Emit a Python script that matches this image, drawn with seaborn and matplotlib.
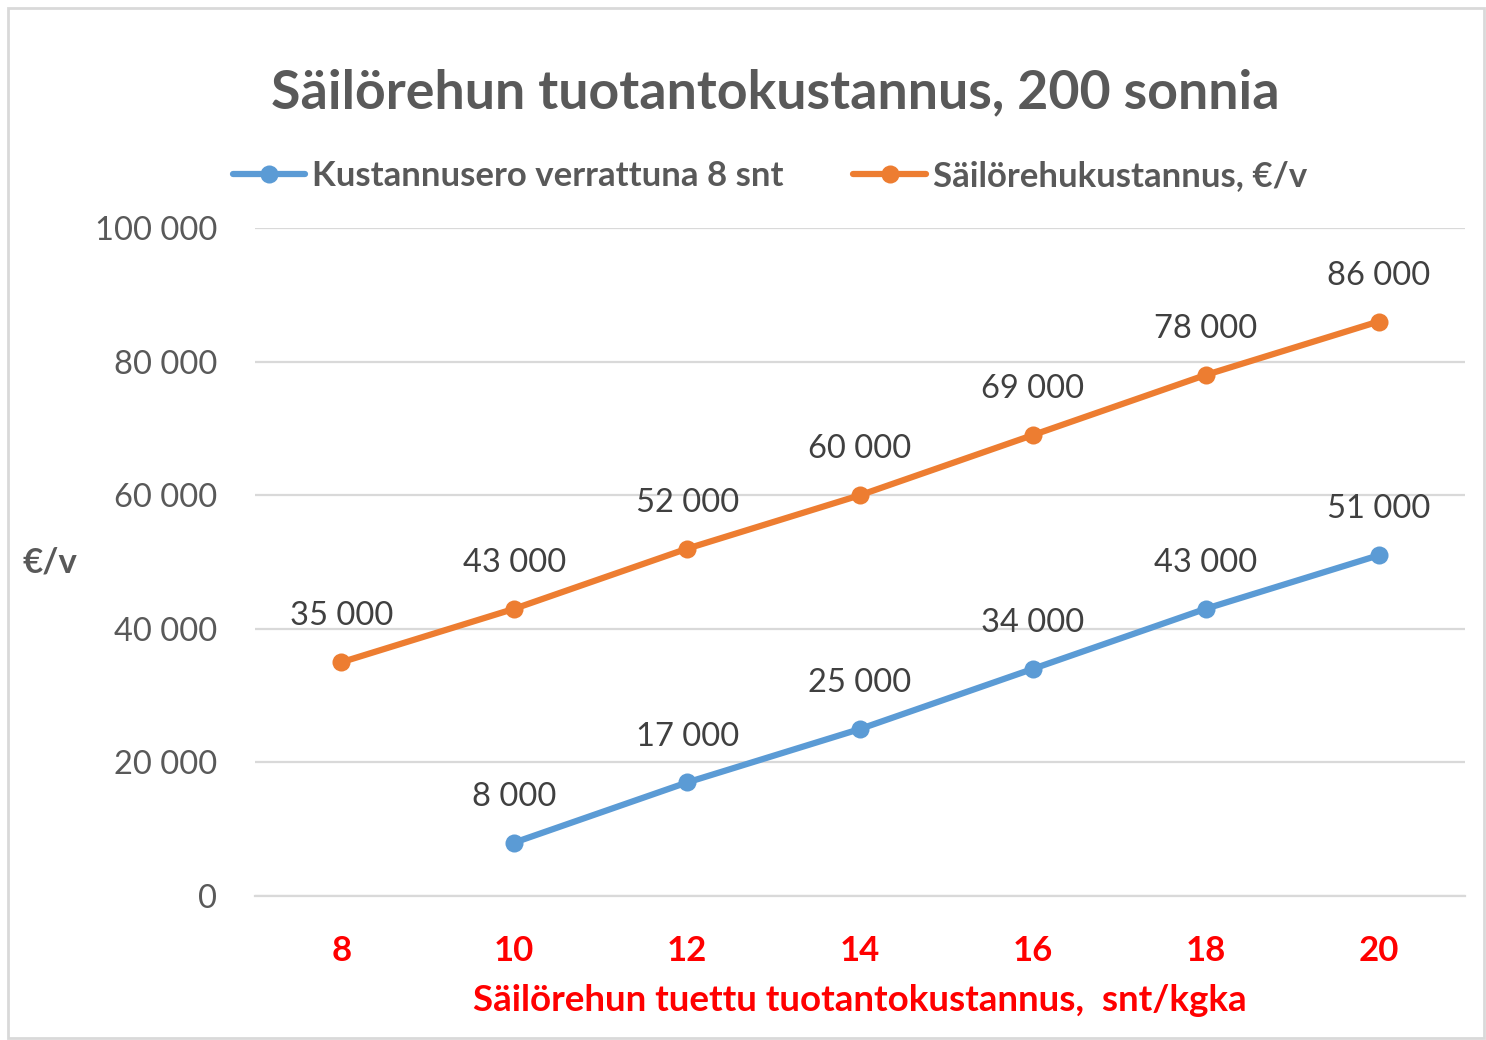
import numpy as np
import pandas as pd
import matplotlib
matplotlib.use("Agg")
import matplotlib.pyplot as plt
import seaborn as sns

# Data
hinta = [8, 10, 12, 14, 16, 18, 20]
kustannusero = [np.nan, 8000, 17000, 25000, 34000, 43000, 51000]
sailorehu = [35000, 43000, 52000, 60000, 69000, 78000, 86000]
y_ticks = [0, 20000, 40000, 60000, 80000, 100000]

df = pd.DataFrame({'hinta': hinta, 'ero': kustannusero, 'kust': sailorehu})

sns.set_style("white")
plt.rcParams['font.family'] = ['Lato', 'DejaVu Sans']

gray = '#595959'
blue = '#5B9BD5'
orange = '#ED7D31'
red = '#FF0000'

fig = plt.figure(figsize=(14.86, 10.40), dpi=100)
ax = fig.add_axes([255/1486, 1-896/1040, 1210/1486, 668/1040])

sns.lineplot(data=df, x='hinta', y='ero', ax=ax, color=blue, linewidth=4.5,
             marker='o', markersize=13, markeredgewidth=0,
             label='Kustannusero verrattuna 8 snt')
sns.lineplot(data=df, x='hinta', y='kust', ax=ax, color=orange, linewidth=4.5,
             marker='o', markersize=13, markeredgewidth=0,
             label='Säilörehukustannus, €/v')

def fmt(v):
    return '{:,.0f}'.format(v).replace(',', ' ')

# data labels
for xv, yv in zip(hinta, kustannusero):
    if not np.isnan(yv):
        ax.annotate(fmt(yv), (xv, yv), xytext=(0, 33), textcoords='offset points',
                    ha='center', va='center', fontsize=23.5, color='#404040')
for xv, yv in zip(hinta, sailorehu):
    ax.annotate(fmt(yv), (xv, yv), xytext=(0, 33), textcoords='offset points',
                ha='center', va='center', fontsize=23.5, color='#404040')

ax.set_xlim(7, 21)
ax.set_ylim(0, 100000)
ax.set_yticks(y_ticks)
ax.set_yticklabels([fmt(v) for v in y_ticks], fontsize=23.5, color=gray)
ax.set_xticks(hinta)
ax.set_xticklabels([str(v) for v in hinta], fontsize=25, color=red, fontweight='bold')
ax.tick_params(axis='both', length=0)
ax.tick_params(axis='y', pad=27)
ax.tick_params(axis='x', pad=28)
ax.grid(axis='y', color='#D9D9D9', linewidth=1.6)
ax.set_axisbelow(True)
for s in ['top', 'right', 'left']:
    ax.spines[s].set_visible(False)
ax.spines['bottom'].set_color('#D9D9D9')
ax.spines['bottom'].set_linewidth(1.6)

ax.set_xlabel('Säilörehun tuettu tuotantokustannus,  snt/kgka', fontsize=26.5,
              color=red, fontweight='bold', labelpad=12)
ax.set_ylabel('')
fig.text(50/1486, 1-563/1040, '€/v', fontsize=25, color=gray, fontweight='bold',
         ha='center', va='center')

fig.text(775/1486, 1-93/1040, 'Säilörehun tuotantokustannus, 200 sonnia',
         fontsize=38.6, color=gray, fontweight='bold', ha='center', va='center')

leg = ax.legend(loc='center', bbox_to_anchor=(770/1486, 1-176/1040),
                bbox_transform=fig.transFigure, ncol=2, frameon=False,
                fontsize=25, handlelength=2.1, columnspacing=2.0, handletextpad=0.2)
for t in leg.get_texts():
    t.set_color(gray)
    t.set_fontweight('bold')

# outer frame
fig.patches.append(plt.Rectangle((8/1486, 2/1040), 1476/1486, 1030/1040,
                                 transform=fig.transFigure, fill=False,
                                 edgecolor='#D9D9D9', linewidth=2))

fig.savefig('out.png', dpi=100, facecolor='white')
